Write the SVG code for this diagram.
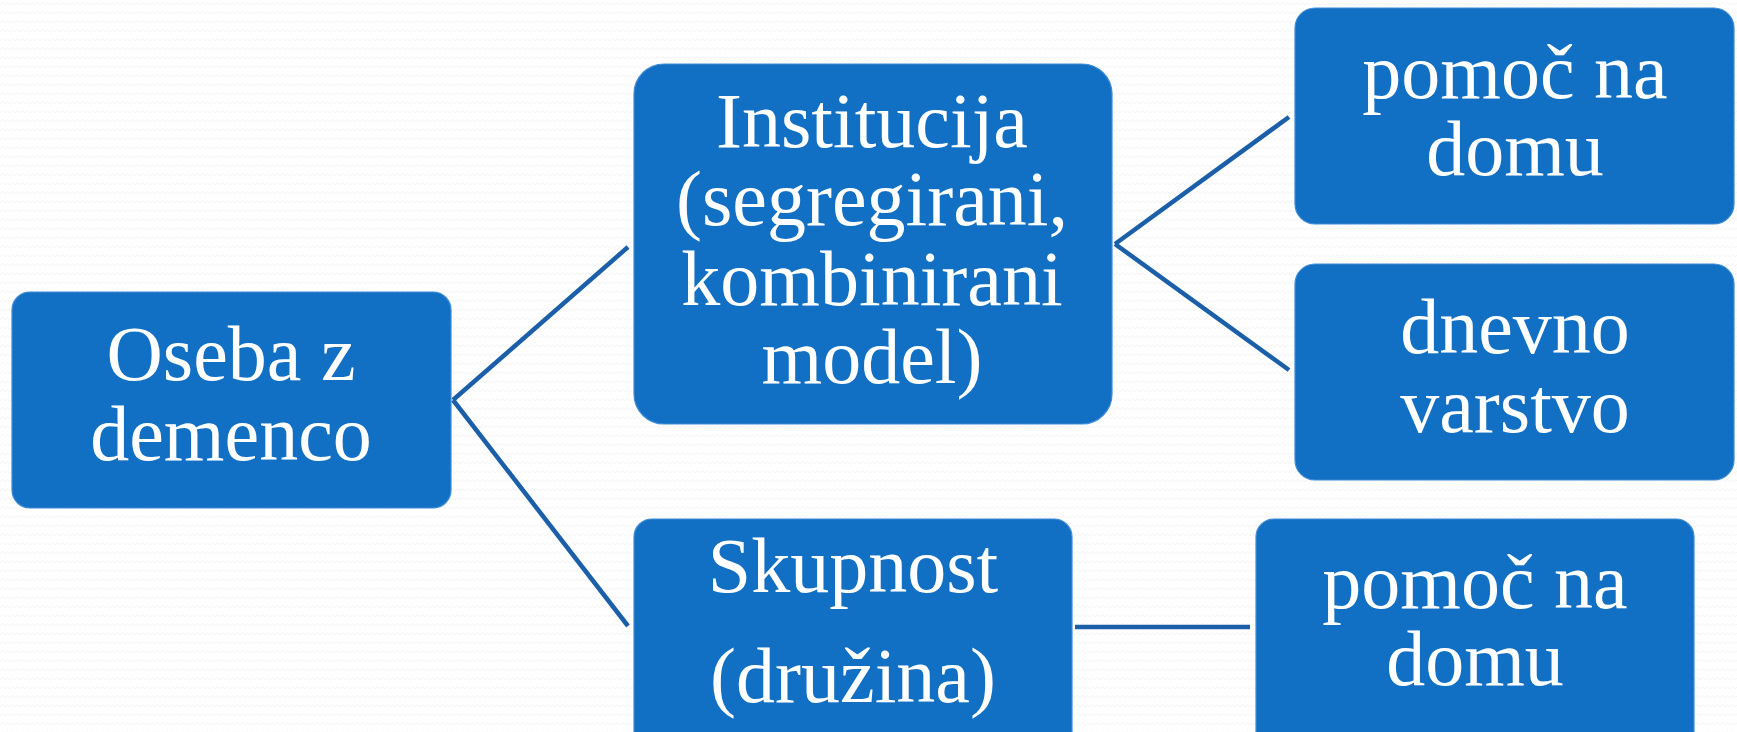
<svg xmlns="http://www.w3.org/2000/svg" width="1737" height="732" viewBox="0 0 1737 732">
<defs>
<pattern id="zz" width="10" height="9" patternUnits="userSpaceOnUse">
<rect width="10" height="9" fill="#ffffff"/>
<polyline points="0,5 2.5,2.5 5,5 7.5,2.5 10,5" fill="none" stroke="#f4f4f4" stroke-width="1"/>
</pattern>
<style>
.box{fill:#1170c4;stroke:#3f8bd5;stroke-width:1.2}
.t{font-family:"Liberation Serif","Times New Roman",serif;font-size:78px;fill:#ffffff;text-anchor:middle}
.c{stroke:#1a5fa8;stroke-width:4.5;fill:none;stroke-linecap:butt}
</style>
</defs>
<rect width="1737" height="732" fill="url(#zz)"/>
<g id="connectors">
<line class="c" x1="453" y1="400" x2="628" y2="247"/>
<line class="c" x1="453" y1="400" x2="628" y2="626"/>
<line class="c" x1="1115" y1="244" x2="1289" y2="117"/>
<line class="c" x1="1115" y1="244" x2="1289" y2="370"/>
<line class="c" x1="1075" y1="627" x2="1250" y2="627"/>
</g>
<g id="node-oseba">
<rect class="box" x="12" y="292" width="439" height="216" rx="18"/>
<text class="t" x="231" y="380">Oseba z</text>
<text class="t" x="231" y="460">demenco</text>
</g>
<g id="node-institucija">
<rect class="box" x="634" y="64" width="478" height="360" rx="30"/>
<text class="t" x="872" y="147">Institucija</text>
<text class="t" x="872" y="225">(segregirani,</text>
<text class="t" x="872" y="305">kombinirani</text>
<text class="t" x="872" y="383">model)</text>
</g>
<g id="node-pomoc1">
<rect class="box" x="1295" y="8" width="439" height="216" rx="20"/>
<text class="t" x="1515" y="98">pomoč na</text>
<text class="t" x="1515" y="175">domu</text>
</g>
<g id="node-dnevno">
<rect class="box" x="1295" y="264" width="439" height="216" rx="20"/>
<text class="t" x="1515" y="353">dnevno</text>
<text class="t" x="1515" y="432">varstvo</text>
</g>
<g id="node-skupnost">
<rect class="box" x="634" y="519" width="438" height="240" rx="18"/>
<text class="t" x="853" y="592">Skupnost</text>
<text class="t" x="853" y="702">(družina)</text>
</g>
<g id="node-pomoc2">
<rect class="box" x="1256" y="519" width="438" height="240" rx="18"/>
<text class="t" x="1475" y="608">pomoč na</text>
<text class="t" x="1475" y="685">domu</text>
</g>
</svg>
